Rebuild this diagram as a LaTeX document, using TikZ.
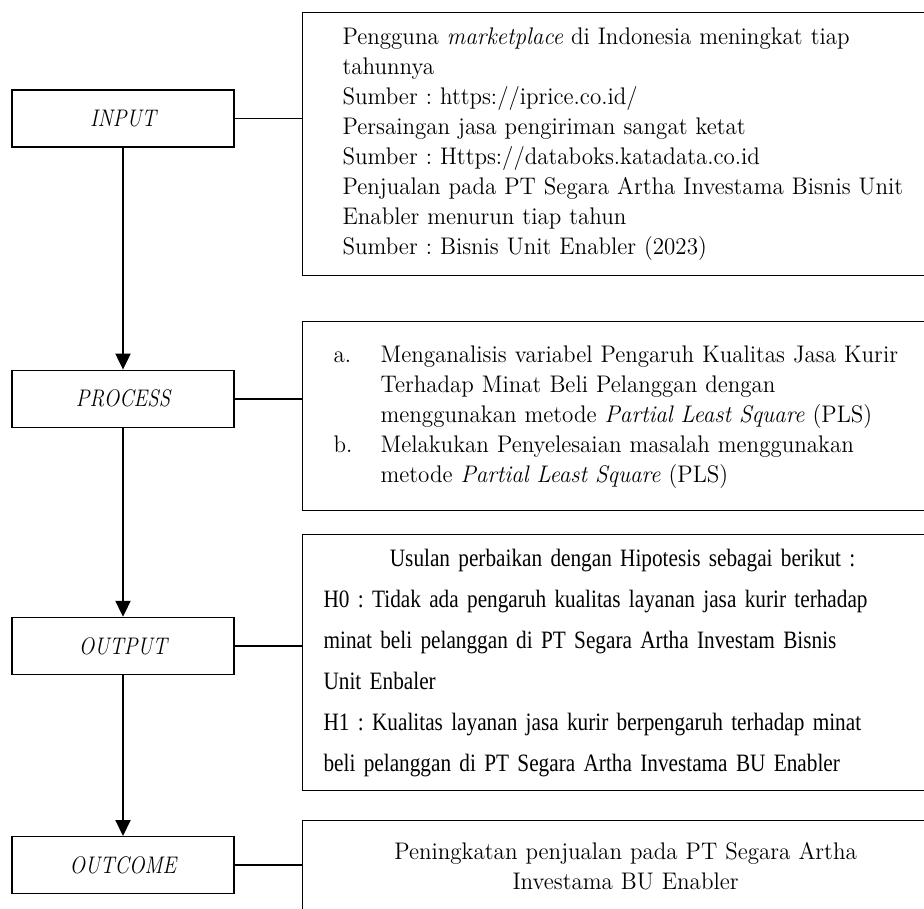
\documentclass[tikz,border=0pt]{standalone}
\usepackage{fontspec}
\setmainfont{Latin Modern Roman}[FakeStretch=0.96]
\newfontfamily\stagefont{Latin Modern Roman}[FakeStretch=0.86]
\newfontfamily\timesfont{Liberation Serif}[FakeStretch=0.85]
\usetikzlibrary{arrows.meta,positioning}
\frenchspacing

\begin{document}
\begin{tikzpicture}[
  x=0.5pt, y=-0.5pt,
  stage/.style={rectangle, draw, line width=0.6pt, minimum width=111pt, minimum height=28.5pt, inner sep=0pt, font=\stagefont\fontsize{12}{15}\selectfont\itshape},
  info/.style={rectangle, draw, line width=0.6pt, anchor=north west, align=left, inner ysep=0pt, font=\fontsize{12}{15}\selectfont},
  link/.style={line width=0.8pt},
  flow/.style={-{Triangle[width=7.5pt,length=8pt]}, line width=1pt}
]
  \fill[white] (0,0) rectangle (924,908);
  \useasboundingbox (0,0) rectangle (924,908);

  % Stages
  \node[stage] (input) at (123,118.5) {INPUT};
  \node[stage, below=111pt of input] (process) {PROCESS};
  \node[stage, below=94.5pt of process] (output) {OUTPUT};
  \node[stage, below=80.5pt of output] (outcome) {OUTCOME};

  % Notes
  \node[info, text width=300pt, inner xsep=20pt, minimum height=131.5pt] (inputinfo) at (302,12) {%
    Pengguna \textit{marketplace} di Indonesia meningkat tiap\\
    tahunnya\\
    Sumber : https://iprice.co.id/\\
    Persaingan jasa pengiriman sangat ketat\\
    Sumber : Https://databoks.katadata.co.id\\
    Penjualan pada PT Segara Artha Investama Bisnis Unit\\
    Enabler menurun tiap tahun\\
    Sumber : Bisnis Unit Enabler (2023)};
  \node[info, text width=300pt, inner xsep=15.5pt, minimum height=94.5pt] (processinfo) at (302,321) {%
    \begin{tabular}{@{}p{23.5pt}@{}l@{}}
      a. & Menganalisis variabel Pengaruh Kualitas Jasa Kurir\\
         & Terhadap Minat Beli Pelanggan dengan\\
         & menggunakan metode \textit{Partial Least Square} (PLS)\\
      b. & Melakukan Penyelesaian masalah menggunakan\\
         & metode \textit{Partial Least Square} (PLS)
    \end{tabular}\\[5pt]};
  \node[info, text width=302pt, inner xsep=10.5pt, minimum height=128pt, font=\timesfont\fontsize{12.5}{20.5}\selectfont] (outputinfo) at (302,534) {%
    \makebox[299pt]{Usulan perbaikan dengan Hipotesis sebagai berikut :}\\
    H0 : Tidak ada pengaruh kualitas layanan jasa kurir terhadap\\
    minat beli pelanggan di PT Segara Artha Investam Bisnis\\
    Unit Enbaler\\
    H1 : Kualitas layanan jasa kurir berpengaruh terhadap minat\\
    beli pelanggan di PT Segara Artha Investama BU Enabler};
  \node[info, align=center, text width=303pt, inner xsep=10pt, minimum height=46pt] (outcomeinfo) at (302,820) {%
    Peningkatan penjualan pada PT Segara Artha\\
    Investama BU Enabler};

  % Links
  \draw[link] (input.east) -- (input.east -| inputinfo.west);
  \draw[link] (process.east) -- (process.east -| processinfo.west);
  \draw[link] (output.east) -- (output.east -| outputinfo.west);
  \draw[link] (outcome.east) -- (outcome.east -| outcomeinfo.west);

  % Flow
  \draw[flow] (input) -- (process);
  \draw[flow] (process) -- (output);
  \draw[flow] (output) -- (outcome);
\end{tikzpicture}
\end{document}
